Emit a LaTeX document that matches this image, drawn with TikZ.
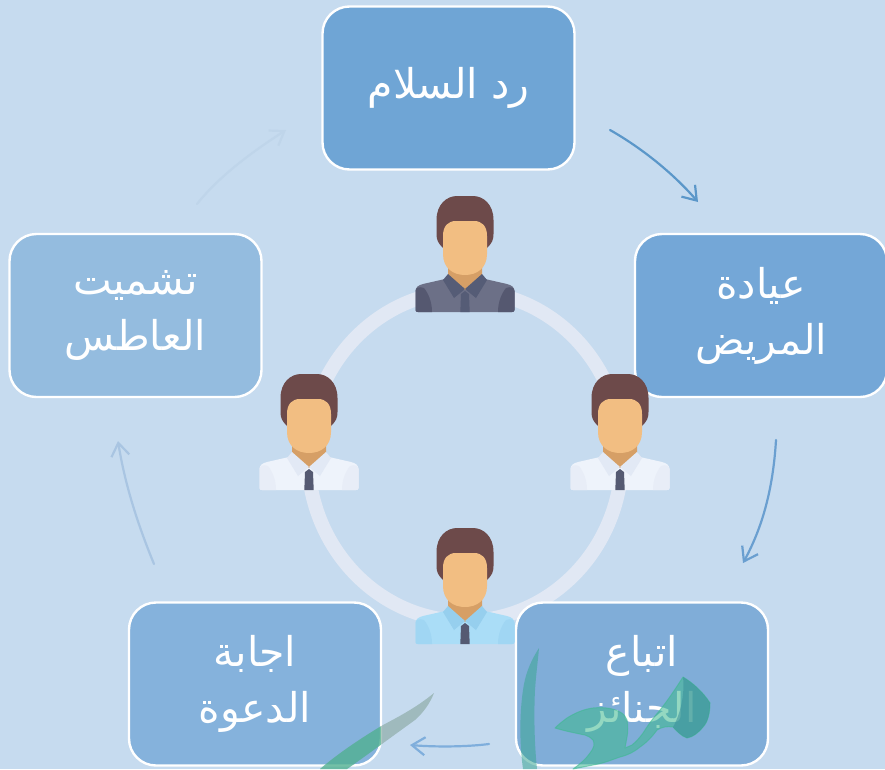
\documentclass[tikz,border=0pt]{standalone}
\usepackage{fontspec}
\usetikzlibrary{arrows.meta}
\TeXXeTstate=1
\newfontfamily\arabicfont[Script=Arabic]{DejaVu Sans}
\newcommand{\arline}[1]{\arabicfont\beginR #1\endR}
\definecolor{bgc}{HTML}{C6DBEF}
\definecolor{ringc}{HTML}{E1E8F4}
\definecolor{hairc}{HTML}{6D4A4A}
\definecolor{facec}{HTML}{F2BE82}
\definecolor{neckc}{HTML}{D69F66}
\definecolor{tiec}{HTML}{555A72}
\definecolor{wmk}{HTML}{3DB98F}
\definecolor{wmkdark}{HTML}{3A8F9A}
\definecolor{wmkgrey}{HTML}{7F9F95}
\definecolor{boxa}{RGB}{111,165,213}
\definecolor{boxb}{RGB}{116,167,215}
\definecolor{boxc}{RGB}{128,173,216}
\definecolor{boxd}{RGB}{133,178,220}
\definecolor{boxe}{RGB}{148,188,223}
\definecolor{flowa}{RGB}{91,151,201}
\definecolor{flowb}{RGB}{106,159,208}
\definecolor{flowc}{RGB}{127,174,220}
\definecolor{flowd}{RGB}{169,197,226}
\definecolor{flowe}{RGB}{191,213,234}
\definecolor{greybody}{RGB}{108,112,135}
\definecolor{greyside}{RGB}{85,88,112}
\definecolor{greycol}{RGB}{85,92,118}
\definecolor{whitebody}{RGB}{238,243,251}
\definecolor{whiteside}{RGB}{232,237,247}
\definecolor{whitecol}{RGB}{226,233,245}
\definecolor{bluebody}{RGB}{170,221,247}
\definecolor{blueside}{RGB}{160,214,243}
\definecolor{bluecol}{RGB}{150,207,238}
\tikzset{
  x=1pt,y=-1pt,
  box/.style={draw=white,line width=2.4pt,rounded corners=27pt,minimum width=252pt,minimum height=163pt,inner sep=0pt,
    text=white,align=center,font=\fontsize{41}{56}\selectfont},
  flow/.style={line width=2.2pt,line cap=round,-{Straight Barb[length=13pt,width=18pt,line width=2.2pt]}},
  pics/person/.style n args={4}{code={
    % hair
    \fill[hairc] (-22,52) .. controls (-27,47) and (-28.5,44) .. (-28.5,38) -- (-28.5,24) .. controls (-28.5,8) and (-18,0) .. (-8,0) -- (8,0) .. controls (18,0) and (28.5,8) .. (28.5,24) -- (28.5,38) .. controls (28.5,44) and (27,47) .. (22,52) -- cycle;
    % body
    \fill[#1] (-49.5,95) .. controls (-49.5,91) and (-46,89) .. (-42,88) -- (-20,83) -- (20,83) -- (42,88) .. controls (46,89) and (49.5,91) .. (49.5,95) -- (49.5,114) .. controls (49.5,115.5) and (48.5,116) .. (47,116) -- (-47,116) .. controls (-48.5,116) and (-49.5,115.5) .. (-49.5,114) -- cycle;
    % sleeves
    \fill[#2] (-49.5,95) .. controls (-49.5,92) and (-46,90) .. (-41,92) .. controls (-37,97) and (-33,105) .. (-33,116) -- (-47,116) .. controls (-48.5,116) and (-49.5,115.5) .. (-49.5,114) -- cycle;
    \fill[#2] (49.5,95) .. controls (49.5,92) and (46,90) .. (41,92) .. controls (37,97) and (33,105) .. (33,116) -- (47,116) .. controls (48.5,116) and (49.5,115.5) .. (49.5,114) -- cycle;
    % neck
    \fill[neckc] (-17,68) -- (17,68) -- (17,80) -- (0,94) -- (-17,80) -- cycle;
    % collar
    \fill[#3] (-17,78) -- (0,93) -- (-11,102) -- (-22,84) -- cycle;
    \fill[#3] (17,78) -- (0,93) -- (11,102) -- (22,84) -- cycle;
    % tie
    \fill[#4] (-4,98) -- (0,95) -- (4,98) -- (4.7,116) -- (-4.7,116) -- cycle;
    % face
    \fill[facec] (-22,40) .. controls (-22,30) and (-17,25) .. (-9,25) -- (9,25) .. controls (17,25) and (22,30) .. (22,40) -- (22,58) .. controls (22,72) and (12,79) .. (0,79) .. controls (-12,79) and (-22,72) .. (-22,58) -- cycle;
  }}
}
\begin{document}
\begin{tikzpicture}
\path[use as bounding box,fill=bgc] (0,0) rectangle (885,769);
\begin{scope}
\clip (0,0) rectangle (885,769);
% ring
\draw[ringc,line width=14pt] (465,456) ellipse [x radius=157,y radius=165];
% boxes
\node[box,fill=boxa] (b1) at (448.5,88) {\arline{رد السلام}};
\node[box,fill=boxb] (b2) at (761,315.5) {\arline{عيادة}\\\arline{المريض}};
\node[box,fill=boxc] (b3) at (642,684) {\arline{اتباع}\\\arline{الجنائز}};
\node[box,fill=boxd] (b4) at (255,684) {\arline{اجابة}\\\arline{الدعوة}};
\node[box,fill=boxe] (b5) at (135.5,315.5) {\arline{تشميت}\\\arline{العاطس}};
% connector ends
\coordinate (a1s) at (610,130); \coordinate (a1e) at (698,202);
\coordinate (a2s) at (776,440); \coordinate (a2e) at (743,563);
\coordinate (a3s) at (489,744); \coordinate (a3e) at (410,745);
\coordinate (a4s) at (154,564); \coordinate (a4e) at (118,441);
\coordinate (a5s) at (197,204); \coordinate (a5e) at (286,130);
\draw[flow,color=flowa] (a1s) .. controls (640,147) and (672,172) .. (a1e);
\draw[flow,color=flowb] (a2s) .. controls (773,490) and (762,528) .. (a2e);
\draw[flow,color=flowc] (a3s) .. controls (465,747) and (435,747) .. (a3e);
\draw[flow,color=flowd] (a4s) .. controls (138,525) and (125,485) .. (a4e);
\draw[flow,color=flowe] (a5s) .. controls (220,175) and (255,150) .. (a5e);
% people
\pic at (465,196) {person={greybody}{greyside}{greycol}{greycol}};
\pic at (309,374) {person={whitebody}{whiteside}{whitecol}{tiec}};
\pic at (620,374) {person={whitebody}{whiteside}{whitecol}{tiec}};
\pic at (465,528) {person={bluebody}{blueside}{bluecol}{tiec}};
% watermark
\begin{scope}[opacity=.55]
\fill[wmkgrey] (434,693) .. controls (417,707) and (400,716) .. (383,725) .. controls (363,737) and (340,752) .. (320,769) -- (347,769) .. controls (367,755) and (390,738) .. (415,720) .. controls (424,712) and (430,703) .. (434,693) -- cycle;
\begin{scope}
\clip (129,602) rectangle (381,769);
\fill[wmk] (434,693) .. controls (417,707) and (400,716) .. (383,725) .. controls (363,737) and (340,752) .. (320,769) -- (347,769) .. controls (367,755) and (390,738) .. (415,720) .. controls (424,712) and (430,703) .. (434,693) -- cycle;
\end{scope}
\fill[wmk!55!wmkdark] (539,648) .. controls (530,662) and (525,675) .. (523,690) .. controls (520,710) and (519,740) .. (523,769) -- (537,769) .. controls (534,740) and (534,710) .. (535,690) .. controls (536,675) and (538,660) .. (539,648) -- cycle;
\path[fill=wmk,draw=wmk,line width=1pt,line join=round] (683,677) .. controls (693,683) and (703,692) .. (710,703) .. controls (710,712) and (708,722) .. (703,727) .. controls (698,733) and (693,737) .. (687,738) .. controls (681,736) and (677,731) .. (673,727) .. controls (667,726) and (662,727) .. (657,730) .. controls (652,737) and (646,743) .. (640,747) .. controls (634,752) and (628,755) .. (620,757) .. controls (611,760) and (605,763) .. (593,765) -- (573,769) .. controls (580,764) and (586,759) .. (590,753) .. controls (594,748) and (595,744) .. (593,740) .. controls (590,737) and (588,736) .. (585,735) .. controls (575,733) and (565,731) .. (555,728) .. controls (559,724) and (563,721) .. (567,718) .. controls (575,713) and (584,709) .. (593,708) .. controls (603,707) and (613,708) .. (620,712) .. controls (624,714) and (626,717) .. (627,720) .. controls (628,726) and (628,732) .. (627,737) -- (625,748) -- (632,745) .. controls (637,741) and (642,735) .. (645,730) .. controls (650,722) and (655,716) .. (660,710) .. controls (668,700) and (676,688) .. (683,677) -- cycle;
\fill[wmkdark] (683,677) .. controls (693,683) and (703,692) .. (710,703) .. controls (710,712) and (708,722) .. (703,727) .. controls (698,733) and (693,737) .. (687,738) .. controls (681,736) and (677,731) .. (673,727) .. controls (680,715) and (685,695) .. (683,677) -- cycle;
\end{scope}
\end{scope}
\end{tikzpicture}
\end{document}
